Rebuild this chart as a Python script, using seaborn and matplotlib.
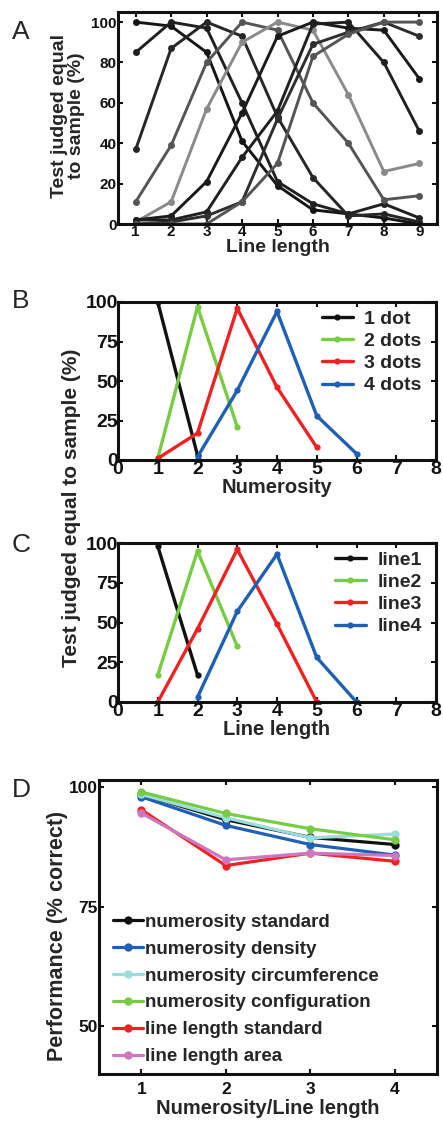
import matplotlib
matplotlib.use('Agg')
import matplotlib.pyplot as plt
import seaborn as sns
import pandas as pd

# ---- Panel A: tuning curves, samples 1..9 ----
line_lengths = [1, 2, 3, 4, 5, 6, 7, 8, 9]
sample_1 = [100, 98, 85, 41, 19, 7, 5, 3, 0]
sample_2 = [85, 100, 97, 60, 21, 10, 5, 10, 3]
sample_3 = [37, 87, 100, 93, 53, 23, 4, 5, 1]
sample_4 = [11, 39, 80, 100, 96, 60, 40, 12, 14]
sample_5 = [1, 11, 57, 90, 100, 96, 64, 26, 30]
sample_6 = [2, 4, 21, 55, 93, 100, 97, 96, 72]
sample_7 = [2, 2, 6, 33, 56, 99, 100, 80, 46]
sample_8 = [0, 1, 4, 11, 52, 89, 95, 100, 93]
sample_9 = [0, 0, 0, 11, 30, 83, 94, 100, 100]
samples_a = [sample_1, sample_2, sample_3, sample_4, sample_5,
             sample_6, sample_7, sample_8, sample_9]
greys_a = ['#151515', '#202020', '#262626', '#555555', '#8a8a8a',
           '#1a1a1a', '#202020', '#2e2e2e', '#555555']

# ---- Panel B: numerosity ----
dots_labels = ['1 dot', '2 dots', '3 dots', '4 dots']
dots_x = [[1, 2], [1, 2, 3], [1, 2, 3, 4, 5], [2, 3, 4, 5, 6]]
dots_y = [[100, 3], [1, 97, 21], [1, 17, 96, 46, 8], [2, 44, 94, 28, 4]]

# ---- Panel C: line length ----
line_labels = ['line1', 'line2', 'line3', 'line4']
line_x = [[1, 2], [1, 2, 3], [1, 2, 3, 4, 5], [2, 3, 4, 5, 6]]
line_y = [[98, 17], [17, 95, 35], [0, 46, 96, 49, 0], [3, 57, 93, 28, 0]]

four_colors = ['#111111', '#77cc44', '#ee2222', '#1f5fb4']

# ---- Panel D: performance ----
set_size = [1, 2, 3, 4]
perf_labels = ['numerosity standard', 'numerosity density',
               'numerosity circumference', 'numerosity configuration',
               'line length standard', 'line length area']
num_standard = [98.5, 93.2, 89.5, 88.0]
num_density = [98.0, 92.0, 88.0, 85.8]
num_circumference = [98.5, 93.6, 89.4, 90.2]
num_configuration = [99.0, 94.5, 91.3, 89.0]
len_standard = [95.3, 83.6, 86.2, 84.5]
len_area = [94.6, 84.8, 86.2, 85.7]
perf_values = [num_standard, num_density, num_circumference,
               num_configuration, len_standard, len_area]
perf_colors = ['#111111', '#1f5fb4', '#99dddd', '#77cc44', '#ee2222', '#cc77c0']

sns.set_style('ticks')
plt.rcParams['font.family'] = ['Liberation Sans', 'DejaVu Sans']
plt.rcParams['xtick.direction'] = 'in'
plt.rcParams['ytick.direction'] = 'in'

fig = plt.figure(figsize=(4.43, 11.23), dpi=100)
W, H = 443.0, 1123.0


def box(l, t, r, b):
    return fig.add_axes([l / W, 1 - b / H, (r - l) / W, (b - t) / H])


def style_axes(ax, size):
    ax.tick_params(top=True, right=True, width=1.5, length=3.5,
                   labelsize=size, pad=1, colors='#111111')
    for lab in ax.get_xticklabels() + ax.get_yticklabels():
        lab.set_fontweight('bold')
    for s in ax.spines.values():
        s.set_linewidth(2.2)
        s.set_color('#111111')


# Panel A
df_a = pd.DataFrame({
    'x': line_lengths * len(samples_a),
    'y': [v for s in samples_a for v in s],
    'sample': [i for i in range(len(samples_a)) for _ in line_lengths],
})
ax_a = box(118, 12, 437, 224)
sns.lineplot(data=df_a, x='x', y='y', hue='sample', palette=greys_a,
             marker='o', markersize=5, markeredgewidth=0, linewidth=2.1,
             legend=False, ax=ax_a)
ax_a.set_xlim(0.5, 9.5)
ax_a.set_ylim(0, 105)
ax_a.set_xticks(line_lengths)
ax_a.set_yticks([0, 20, 40, 60, 80, 100])
ax_a.set_xlabel('Line length', fontsize=14, fontweight='bold', labelpad=0)
ax_a.set_ylabel('Test judged equal\nto sample (%)', fontsize=14,
                fontweight='bold', linespacing=0.95)
ax_a.yaxis.set_label_coords(-0.105, 0.51)
style_axes(ax_a, 11)


def tuning_panel(ax, xs, ys, labels, xlabel):
    df = pd.DataFrame({
        'x': [v for s in xs for v in s],
        'y': [v for s in ys for v in s],
        'label': [labels[i] for i, s in enumerate(xs) for _ in s],
    })
    sns.lineplot(data=df, x='x', y='y', hue='label', hue_order=labels,
                 palette=four_colors, marker='o', markersize=4.5,
                 markeredgewidth=0, linewidth=2.4, ax=ax)
    ax.set_xlim(0, 8)
    ax.set_ylim(0, 100)
    ax.set_xticks(range(0, 9))
    ax.set_yticks([0, 25, 50, 75, 100])
    ax.set_xlabel(xlabel, fontsize=14.5, fontweight='bold', labelpad=0)
    ax.set_ylabel('')
    leg = ax.legend(loc='upper right', frameon=False, fontsize=14,
                    handlelength=1.6, handletextpad=0.6, labelspacing=0.24,
                    borderpad=0, borderaxespad=0,
                    bbox_to_anchor=(0.955, 0.95))
    for t in leg.get_texts():
        t.set_fontweight('bold')
    style_axes(ax, 14)
    ax.tick_params(axis='y', pad=0)


ax_b = box(118, 302, 436, 460)
tuning_panel(ax_b, dots_x, dots_y, dots_labels, 'Numerosity')
ax_c = box(118, 543, 436, 702)
tuning_panel(ax_c, line_x, line_y, line_labels, 'Line length')
fig.text(72 / W, 1 - 508 / H, 'Test judged equal to sample (%)', rotation=90,
         ha='center', va='center', fontsize=15, fontweight='bold')

# Panel D
df_d = pd.DataFrame({
    'x': set_size * len(perf_values),
    'y': [v for s in perf_values for v in s],
    'cond': [perf_labels[i] for i in range(len(perf_values)) for _ in set_size],
})
ax_d = box(99, 780, 437, 1074)
sns.lineplot(data=df_d, x='x', y='y', hue='cond', hue_order=perf_labels,
             palette=perf_colors, marker='o', markersize=6,
             markeredgewidth=0, linewidth=2.3, ax=ax_d)
ax_d.set_xlim(0.5, 4.5)
ax_d.set_ylim(40, 101.5)
ax_d.set_xticks(set_size)
ax_d.set_yticks([50, 75, 100])
ax_d.set_xlabel('Numerosity/Line length', fontsize=14.5, fontweight='bold',
                labelpad=1)
ax_d.set_ylabel('Performance (% correct)', fontsize=15.5, fontweight='bold')
ax_d.yaxis.set_label_coords(-0.092, 0.47)
leg = ax_d.legend(loc='lower left', frameon=False, fontsize=13.5,
                  handlelength=1.6, handletextpad=0.15, labelspacing=0.52,
                  borderpad=0, borderaxespad=0,
                  bbox_to_anchor=(0.04, 0.03))
for t in leg.get_texts():
    t.set_fontweight('bold')
style_axes(ax_d, 12.5)
ax_d.tick_params(axis='x', pad=6)

for letter, y in [('A', 32), ('B', 301), ('C', 545), ('D', 790)]:
    fig.text(12 / W, 1 - y / H, letter, fontsize=19, ha='left', va='center')

fig.savefig('out.png', dpi=100)
